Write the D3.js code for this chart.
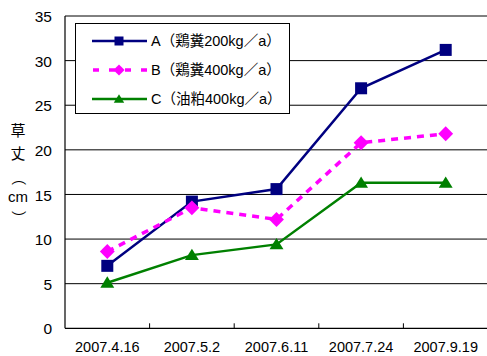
<!DOCTYPE html>
<html>
<head>
<meta charset="utf-8">
<script src="https://cdn.jsdelivr.net/npm/d3@7"></script>
<style>
  html, body { margin: 0; padding: 0; background: #fff; }
  svg { display: block; }
  text { font-family: "Liberation Sans", Arial, "Noto Sans CJK JP", sans-serif; fill: #000; }
</style>
</head>
<body>
<script>
// Survey dates (x categories)
const dates = ["2007.4.16", "2007.5.2", "2007.6.11", "2007.7.24", "2007.9.19"];

// Plant height (cm) per treatment
const seriesA = [7.0, 14.2, 15.6, 26.9, 31.2];
const seriesB = [8.6, 13.5, 12.2, 20.8, 21.8];
const seriesC = [5.1, 8.2, 9.4, 16.3, 16.3];

const seriesNames = ["A（鶏糞200kg／a）", "B（鶏糞400kg／a）", "C（油粕400kg／a）"];
const yTicks = [0, 5, 10, 15, 20, 25, 30, 35];

const W = 487, H = 356;
const plotL = 65, plotR = 488, plotT = 16, plotB = 328.3;

const svg = d3.select("body").append("svg")
  .attr("width", W).attr("height", H);

svg.append("rect").attr("width", W).attr("height", H).attr("fill", "#fff");

const x = d3.scaleBand().domain(dates).range([plotL, plotR]).paddingInner(0).paddingOuter(0);
const y = d3.scaleLinear().domain([0, 35]).range([plotB, plotT]);
const cx = d => x(d) + x.bandwidth() / 2;

// horizontal gridlines
svg.append("g").selectAll("line").data(yTicks.filter(t => t > 0)).join("line")
  .attr("x1", plotL).attr("x2", plotR)
  .attr("y1", d => y(d)).attr("y2", d => y(d))
  .attr("stroke", "#000").attr("stroke-width", 1);

// y axis (labels only, line drawn separately)
const yAxis = d3.axisLeft(y).tickValues(yTicks).tickSize(0).tickPadding(13);
const gy = svg.append("g").attr("transform", `translate(${plotL},0)`).call(yAxis);
gy.select(".domain").remove();
gy.selectAll("text").style("font-size", "15.5px").attr("dy", "0.36em")
  .style("font-family", "'Liberation Sans', Arial, sans-serif");

// axis lines
svg.append("line").attr("x1", plotL).attr("x2", plotL).attr("y1", plotT).attr("y2", plotB)
  .attr("stroke", "#000").attr("stroke-width", 1.2);
svg.append("line").attr("x1", plotL).attr("x2", plotR).attr("y1", plotB).attr("y2", plotB)
  .attr("stroke", "#000").attr("stroke-width", 1.2);

// x ticks at category boundaries, pointing up into the plot
svg.append("g").selectAll("line").data(dates.slice(1)).join("line")
  .attr("x1", d => x(d)).attr("x2", d => x(d))
  .attr("y1", plotB).attr("y2", plotB - 5)
  .attr("stroke", "#000").attr("stroke-width", 1);

// x labels
svg.append("g").selectAll("text").data(dates).join("text")
  .attr("x", d => cx(d)).attr("y", 352)
  .attr("text-anchor", "middle")
  .style("font-size", "14.5px")
  .text(d => d);

// y axis title, stacked vertically
const title = svg.append("g").attr("transform", "translate(18,0)");
title.append("text").attr("y", 136).attr("text-anchor", "middle").style("font-size", "15px").text("草");
title.append("text").attr("y", 159).attr("text-anchor", "middle").style("font-size", "15px").text("丈");
title.append("text").attr("transform", "translate(0,178) rotate(90)").attr("text-anchor", "middle")
  .attr("dy", "0.35em").style("font-size", "15px").text("（");
title.append("text").attr("y", 202).attr("text-anchor", "middle").style("font-size", "15px").text("cm");
title.append("text").attr("transform", "translate(0,218) rotate(90)").attr("text-anchor", "middle")
  .attr("dy", "0.35em").style("font-size", "15px").text("）");

// series definitions
const series = [
  { name: seriesNames[0], values: seriesA, color: "#000080", width: 2.5, dash: null, marker: "square" },
  { name: seriesNames[1], values: seriesB, color: "#FF00FF", width: 3.5, dash: "7,6", marker: "diamond" },
  { name: seriesNames[2], values: seriesC, color: "#008000", width: 2.5, dash: null, marker: "triangle" }
];

function drawMarker(g, type, px, py, s, color) {
  if (type === "square") {
    g.append("rect").attr("x", px - s / 2).attr("y", py - s / 2)
      .attr("width", s).attr("height", s).attr("fill", color);
  } else if (type === "diamond") {
    const r = s * 0.62;
    g.append("path").attr("d", `M${px},${py - r}L${px + r},${py}L${px},${py + r}L${px - r},${py}Z`)
      .attr("fill", color);
  } else {
    const h = s * 0.9, w = s * 0.58;
    g.append("path").attr("d", `M${px},${py - h * 0.6}L${px + w},${py + h * 0.45}L${px - w},${py + h * 0.45}Z`)
      .attr("fill", color);
  }
}

const line = d3.line().x((d, i) => cx(dates[i])).y(d => y(d));

series.forEach(s => {
  const g = svg.append("g");
  g.append("path").datum(s.values).attr("d", line)
    .attr("fill", "none").attr("stroke", s.color).attr("stroke-width", s.width)
    .attr("stroke-dasharray", s.dash);
  s.values.forEach((v, i) => drawMarker(g, s.marker, cx(dates[i]), y(v), 12, s.color));
});

// legend
const lg = svg.append("g");
lg.append("rect").attr("x", 75.5).attr("y", 23.5).attr("width", 214).attr("height", 90)
  .attr("fill", "#fff").attr("stroke", "#000").attr("stroke-width", 1);
const rowsY = [41, 70, 99];
series.forEach((s, i) => {
  const ry = rowsY[i];
  lg.append("line").attr("x1", 92).attr("x2", 147).attr("y1", ry).attr("y2", ry)
    .attr("stroke", s.color).attr("stroke-width", s.width).attr("stroke-dasharray", s.dash ? "6,10" : null)
    .attr("stroke-dashoffset", s.dash ? -1 : null);
  drawMarker(lg, s.marker, 119, ry, 9, s.color);
  lg.append("text").attr("x", 151).attr("y", ry).attr("dy", "0.36em")
    .style("font-size", "14.5px").text(s.name);
});
</script>
</body>
</html>
